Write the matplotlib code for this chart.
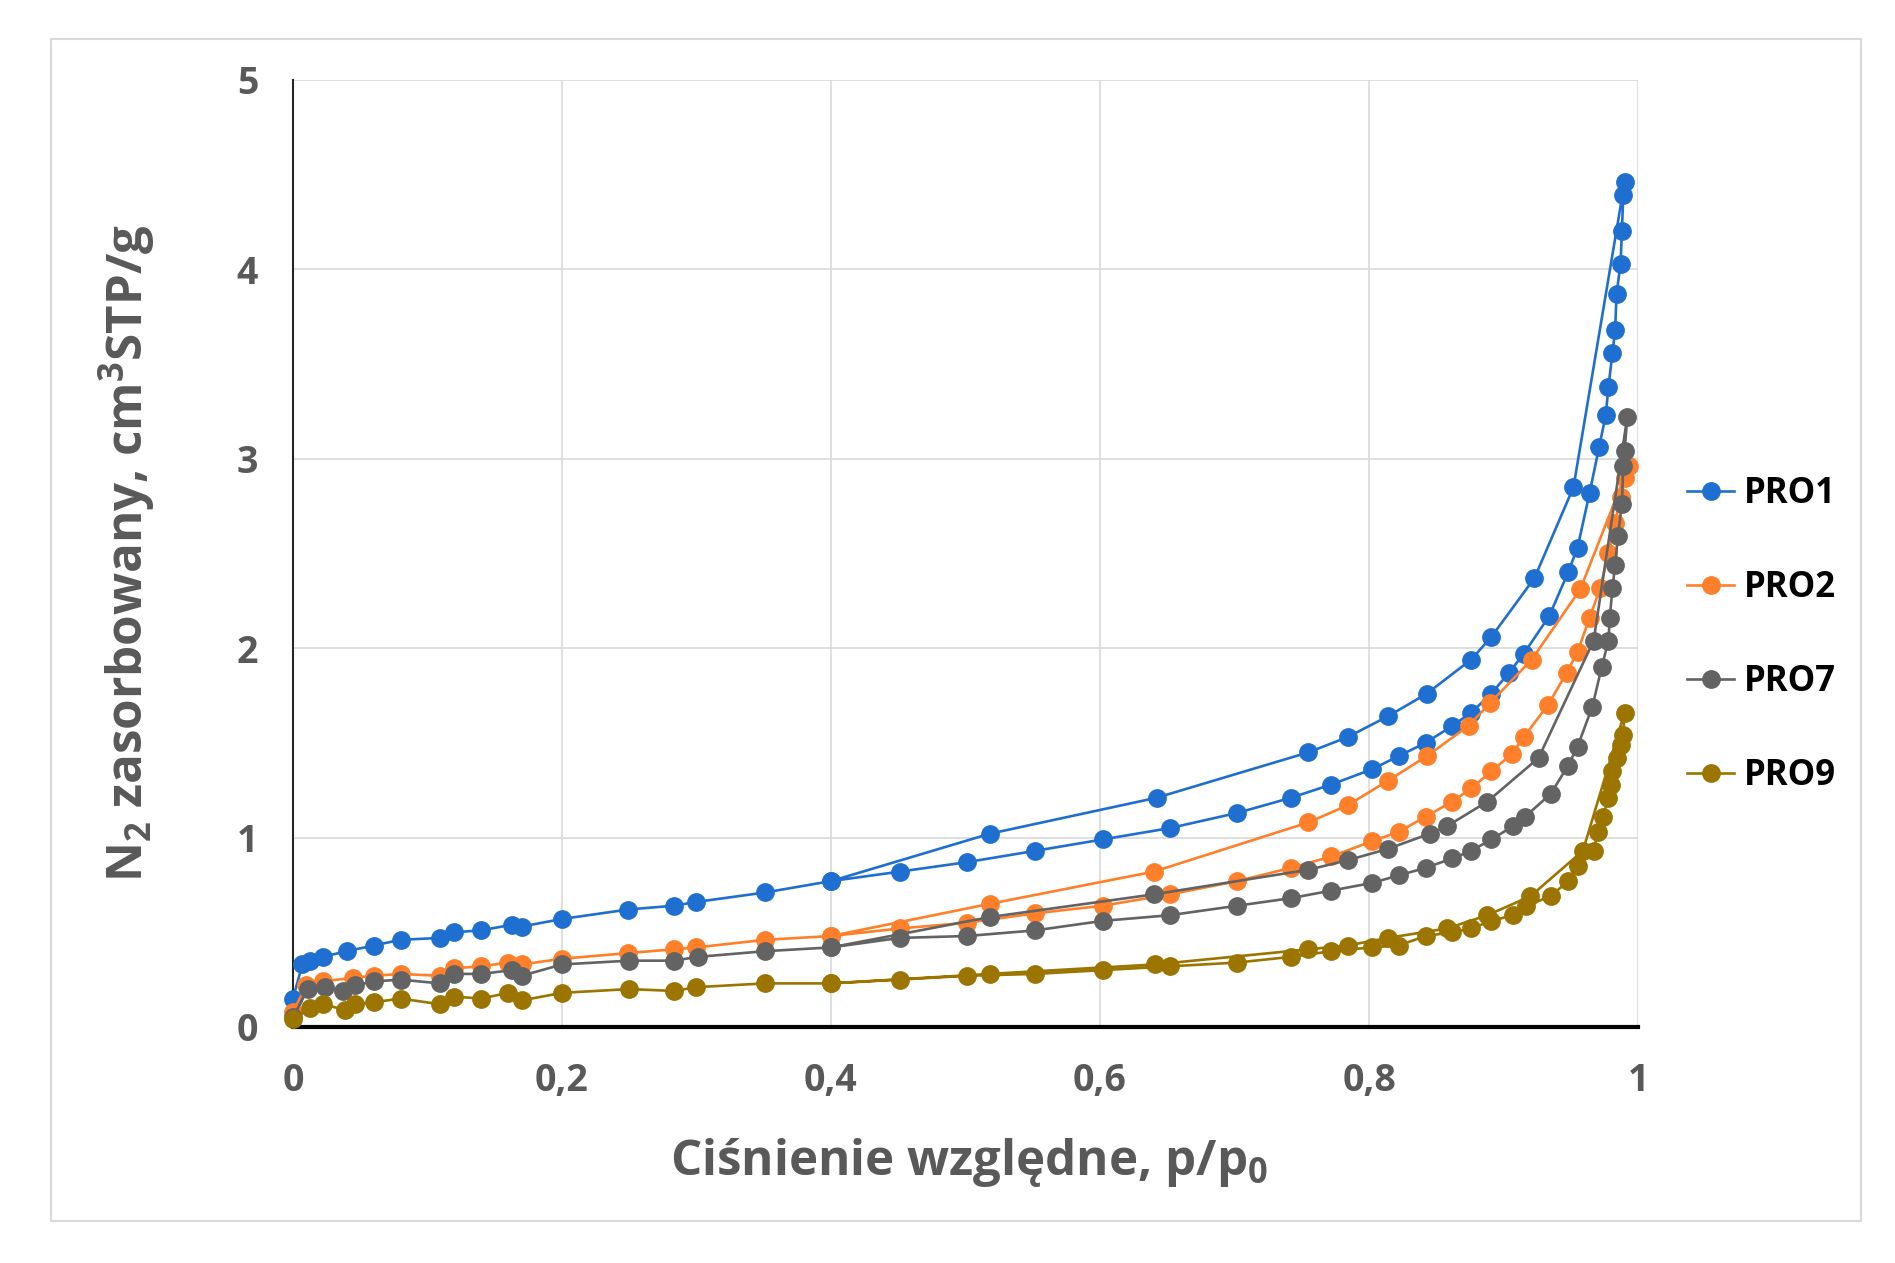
import matplotlib
matplotlib.use("Agg")
import matplotlib.pyplot as plt
from matplotlib.patches import Rectangle

plt.rcParams['font.family'] = ['Open Sans', 'DejaVu Sans']
plt.rcParams['mathtext.fontset'] = 'custom'
plt.rcParams['mathtext.rm'] = 'Open Sans'
plt.rcParams['mathtext.bf'] = 'Open Sans:bold'

# PRO1 - adsorption / desorption branches
pro1_ads_x = [0.0, 0.007, 0.013, 0.022, 0.04, 0.06, 0.08, 0.109, 0.12, 0.14, 0.163, 0.17, 0.2, 0.249,
              0.283, 0.3, 0.351, 0.40, 0.451, 0.501, 0.552, 0.602, 0.652, 0.702, 0.742, 0.772, 0.802,
              0.822, 0.842, 0.862, 0.876, 0.891, 0.904, 0.915, 0.934, 0.948, 0.955, 0.964, 0.971,
              0.976, 0.978, 0.981, 0.983, 0.984, 0.987, 0.988, 0.989, 0.990]
pro1_ads_y = [0.15, 0.33, 0.35, 0.37, 0.40, 0.43, 0.46, 0.47, 0.50, 0.51, 0.54, 0.53, 0.57, 0.62,
              0.64, 0.66, 0.71, 0.77, 0.82, 0.87, 0.93, 0.99, 1.05, 1.13, 1.21, 1.28, 1.36,
              1.43, 1.50, 1.59, 1.66, 1.76, 1.87, 1.97, 2.17, 2.40, 2.53, 2.82, 3.06,
              3.23, 3.38, 3.56, 3.68, 3.87, 4.03, 4.20, 4.39, 4.46]
pro1_des_x = [0.952, 0.923, 0.891, 0.876, 0.843, 0.814, 0.784, 0.755, 0.642, 0.518, 0.40]
pro1_des_y = [2.85, 2.37, 2.06, 1.94, 1.76, 1.64, 1.53, 1.45, 1.21, 1.02, 0.77]

# PRO2
pro2_ads_x = [0.0, 0.01, 0.022, 0.045, 0.06, 0.08, 0.109, 0.12, 0.14, 0.16, 0.17, 0.2, 0.249, 0.283,
              0.3, 0.351, 0.40, 0.451, 0.501, 0.552, 0.602, 0.652, 0.702, 0.742, 0.772, 0.802, 0.822,
              0.842, 0.862, 0.876, 0.891, 0.906, 0.915, 0.933, 0.947, 0.955, 0.964, 0.972, 0.978,
              0.983, 0.987, 0.990, 0.993]
pro2_ads_y = [0.08, 0.22, 0.24, 0.26, 0.27, 0.28, 0.27, 0.31, 0.32, 0.34, 0.33, 0.36, 0.39, 0.41,
              0.42, 0.46, 0.48, 0.52, 0.55, 0.60, 0.64, 0.70, 0.77, 0.84, 0.90, 0.98, 1.03,
              1.11, 1.19, 1.26, 1.35, 1.44, 1.53, 1.70, 1.87, 1.98, 2.16, 2.32, 2.50,
              2.66, 2.80, 2.90, 2.96]
pro2_des_x = [0.957, 0.921, 0.89, 0.874, 0.843, 0.814, 0.784, 0.755, 0.64, 0.518, 0.40]
pro2_des_y = [2.31, 1.94, 1.71, 1.59, 1.43, 1.30, 1.17, 1.08, 0.82, 0.65, 0.48]

# PRO7
pro7_ads_x = [0.0, 0.011, 0.024, 0.037, 0.046, 0.06, 0.08, 0.109, 0.12, 0.14, 0.163, 0.17, 0.2, 0.25,
              0.283, 0.301, 0.351, 0.40, 0.451, 0.501, 0.552, 0.602, 0.652, 0.702, 0.742, 0.772,
              0.802, 0.822, 0.842, 0.862, 0.876, 0.891, 0.907, 0.916, 0.935, 0.948, 0.955, 0.966,
              0.973, 0.978, 0.979, 0.981, 0.983, 0.985, 0.988, 0.989, 0.990, 0.992]
pro7_ads_y = [0.05, 0.20, 0.21, 0.19, 0.22, 0.24, 0.25, 0.23, 0.28, 0.28, 0.30, 0.27, 0.33, 0.35,
              0.35, 0.37, 0.40, 0.42, 0.47, 0.48, 0.51, 0.56, 0.59, 0.64, 0.68, 0.72,
              0.76, 0.80, 0.84, 0.89, 0.93, 0.99, 1.06, 1.11, 1.23, 1.38, 1.48, 1.69,
              1.90, 2.04, 2.16, 2.32, 2.44, 2.59, 2.76, 2.96, 3.04, 3.22]
pro7_des_x = [0.967, 0.926, 0.888, 0.858, 0.845, 0.814, 0.784, 0.755, 0.64, 0.518, 0.40]
pro7_des_y = [2.04, 1.42, 1.19, 1.06, 1.02, 0.94, 0.88, 0.83, 0.70, 0.58, 0.42]

# PRO9
pro9_ads_x = [0.0, 0.013, 0.022, 0.039, 0.046, 0.06, 0.08, 0.109, 0.12, 0.14, 0.16, 0.17, 0.2, 0.25,
              0.283, 0.3, 0.351, 0.40, 0.451, 0.501, 0.552, 0.602, 0.652, 0.702, 0.742, 0.772,
              0.802, 0.822, 0.842, 0.862, 0.876, 0.891, 0.907, 0.917, 0.935, 0.948, 0.955, 0.967,
              0.970, 0.974, 0.978, 0.980, 0.981, 0.984, 0.987, 0.989, 0.990]
pro9_ads_y = [0.04, 0.10, 0.12, 0.09, 0.12, 0.13, 0.15, 0.12, 0.16, 0.15, 0.18, 0.14, 0.18, 0.20,
              0.19, 0.21, 0.23, 0.23, 0.25, 0.27, 0.28, 0.30, 0.32, 0.34, 0.37, 0.40,
              0.42, 0.43, 0.48, 0.50, 0.52, 0.56, 0.59, 0.64, 0.69, 0.77, 0.85, 0.93,
              1.03, 1.11, 1.21, 1.28, 1.35, 1.42, 1.49, 1.54, 1.66]
pro9_des_x = [0.959, 0.92, 0.888, 0.858, 0.814, 0.784, 0.755, 0.641, 0.518, 0.40]
pro9_des_y = [0.93, 0.69, 0.59, 0.52, 0.47, 0.43, 0.41, 0.33, 0.28, 0.23]

series_names = ['PRO1', 'PRO2', 'PRO7', 'PRO9']
series_colors = ['#1f6fd1', '#ff7f2a', '#636363', '#9c7400']

x_ticks = [0, 0.2, 0.4, 0.6, 0.8, 1]
x_tick_labels = ['0', '0,2', '0,4', '0,6', '0,8', '1']
y_ticks = [0, 1, 2, 3, 4, 5]

series = [
    (pro1_ads_x + pro1_des_x, pro1_ads_y + pro1_des_y),
    (pro2_ads_x + pro2_des_x, pro2_ads_y + pro2_des_y),
    (pro7_ads_x + pro7_des_x, pro7_ads_y + pro7_des_y),
    (pro9_ads_x + pro9_des_x, pro9_ads_y + pro9_des_y),
]

fig = plt.figure(figsize=(18.95, 12.63), dpi=100)
fig.patches.append(Rectangle((0.027, 0.033), 0.955, 0.936, transform=fig.transFigure,
                             fill=False, edgecolor='#d9d9d9', linewidth=1.5))

ax = fig.add_axes([0.1546, 0.1869, 0.7098, 0.7498])

for (xs, ys), name, col in zip(series, series_names, series_colors):
    ax.plot(xs, ys, color=col, lw=1.9, marker='o', markersize=12.5,
            markeredgecolor=col, label=name, clip_on=False, zorder=3)

ax.set_xlim(0, 1)
ax.set_ylim(0, 5)
ax.set_xticks(x_ticks)
ax.set_xticklabels(x_tick_labels)
ax.set_yticks(y_ticks)
ax.grid(True, color='#d9d9d9', lw=1.2)
ax.set_axisbelow(True)
ax.tick_params(length=0, labelsize=27, labelcolor='#595959', pad=25)
for lbl in ax.get_xticklabels() + ax.get_yticklabels():
    lbl.set_fontweight('bold')

ax.spines['top'].set_visible(False)
ax.spines['right'].set_visible(False)
ax.spines['left'].set_color('#262626')
ax.spines['left'].set_linewidth(1.5)
ax.spines['bottom'].set_color('black')
ax.spines['bottom'].set_linewidth(3)

ax.text(0.503, -0.143, r'Ciśnienie względne, p/p$\mathregular{_0}$', transform=ax.transAxes,
        ha='center', va='center', fontsize=35.5, fontweight='bold', color='#595959')
ax.text(-0.1234, 0.5, r'N$\mathregular{_2}$ zasorbowany, cm$\mathregular{^3}$STP/g', transform=ax.transAxes,
        ha='center', va='center', rotation=90, fontsize=35.5, fontweight='bold', color='#595959')

leg = fig.legend(loc='center left', bbox_to_anchor=(0.874, 0.497), frameon=False,
                 prop={'size': 25, 'weight': 'bold'}, handlelength=1.33, handletextpad=0.3,
                 labelspacing=1.67)

fig.savefig('out.png', dpi=100)
